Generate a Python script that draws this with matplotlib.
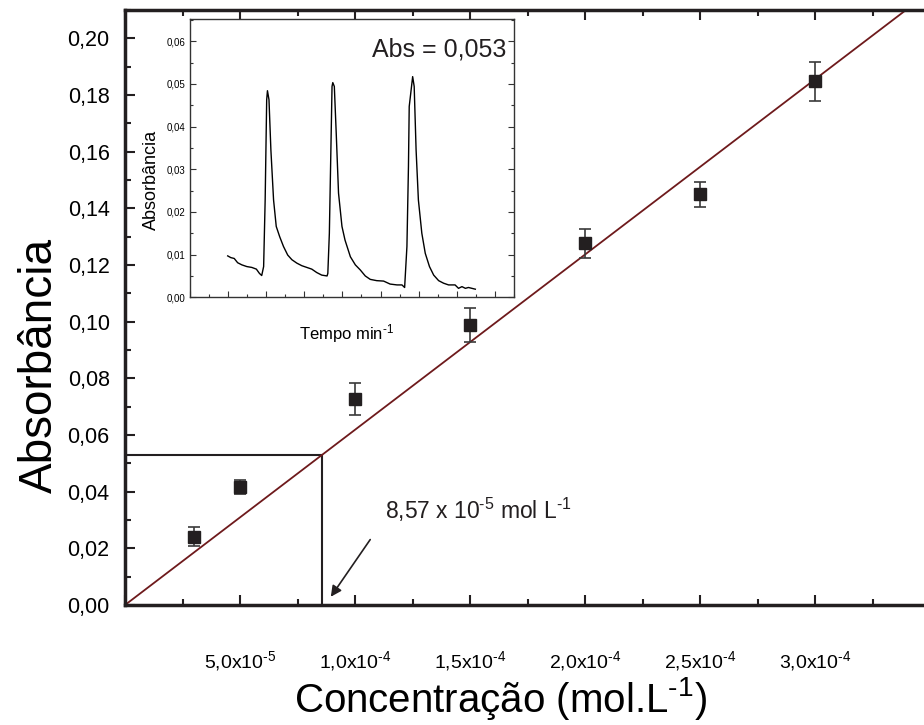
#Calibration curve (absorbance vs concentration) with FIA peaks inset
import numpy as np
import matplotlib
matplotlib.use('Agg')
import matplotlib.pyplot as plt
from matplotlib.ticker import MultipleLocator, FuncFormatter

plt.rcParams['font.family'] = ['Liberation Sans', 'DejaVu Sans']
plt.rcParams['mathtext.fontset'] = 'custom'
plt.rcParams['mathtext.rm'] = 'Liberation Sans'
plt.rcParams['mathtext.it'] = 'Liberation Sans'

#Calibration points
conc = [3.0e-5, 5.0e-5, 1.0e-4, 1.5e-4, 2.0e-4, 2.5e-4, 3.0e-4]
absorb = [0.0241, 0.0416, 0.0727, 0.0988, 0.1276, 0.1449, 0.1848]
absorb_err = [0.0034, 0.0025, 0.0056, 0.0059, 0.0052, 0.0043, 0.0068]

#Sample reading
sample_abs = 0.053
sample_conc = 8.57e-5
slope = sample_abs / sample_conc

#Inset signal (arbitrary time units)
t_sig = [1.00, 1.08, 1.17, 1.26, 1.37, 1.50, 1.63, 1.75, 1.83, 1.89,
         1.94, 1.98, 2.02, 2.04, 2.08, 2.13, 2.20, 2.27, 2.36, 2.46,
         2.57, 2.68, 2.81, 2.94, 3.07, 3.20, 3.33, 3.46, 3.60, 3.62,
         3.66, 3.70, 3.73, 3.75, 3.79, 3.84, 3.90, 3.99, 4.07, 4.21,
         4.34, 4.47, 4.60, 4.73, 4.90, 5.08, 5.25, 5.43, 5.56, 5.63,
         5.69, 5.73, 5.75, 5.79, 5.84, 5.88, 5.93, 5.99, 6.08, 6.17,
         6.28, 6.39, 6.52, 6.65, 6.78, 6.95, 7.04, 7.13, 7.22, 7.30, 7.48]
a_sig = [0.0097, 0.0093, 0.0091, 0.0081, 0.0076, 0.0072, 0.0070, 0.0066, 0.0056, 0.0051,
         0.0072, 0.0228, 0.0463, 0.0484, 0.0463, 0.0345, 0.0228, 0.0166, 0.0142, 0.0119,
         0.0099, 0.0088, 0.0080, 0.0074, 0.0070, 0.0066, 0.0058, 0.0052, 0.0050, 0.0056,
         0.0150, 0.0345, 0.0494, 0.0503, 0.0494, 0.0384, 0.0244, 0.0166, 0.0134, 0.0095,
         0.0076, 0.0064, 0.0050, 0.0042, 0.0039, 0.0038, 0.0031, 0.0029, 0.0029, 0.0023,
         0.0119, 0.0306, 0.0447, 0.0478, 0.0517, 0.0494, 0.0345, 0.0228, 0.0150, 0.0103,
         0.0072, 0.0052, 0.0039, 0.0033, 0.0029, 0.0029, 0.0021, 0.0025, 0.0021, 0.0023, 0.0019]

dark = '#231f20'
HY = '\u2010'  # short hyphen for the exponents

fig = plt.figure(figsize=(9.24, 7.25), dpi=100)
ax = fig.add_axes([125/924, 120/725, 805/924, 595/725])

#Fit line through origin
x_fit = np.linspace(0, 3.5e-4, 50)
ax.plot(x_fit, slope * x_fit, color='#6e1a1c', lw=1.3, zorder=2)

#Data with error bars
ax.errorbar(conc, absorb, yerr=absorb_err, fmt='s', color=dark, ms=9,
            ecolor='#3a3a3a', elinewidth=1.2, capsize=4, capthick=1.2, zorder=3)

#Guide lines to the sample reading
ax.plot([0, sample_conc, sample_conc], [sample_abs, sample_abs, 0], color=dark, lw=1.5, zorder=1)
ax.annotate('', xy=(8.88e-5, 0.0021), xytext=(1.073e-4, 0.0239),
            arrowprops=dict(arrowstyle='-|>', color=dark, lw=1.2, mutation_scale=16))
ax.text(1.13e-4, 0.0335, '8,57 x 10$^{' + HY + '5}$ mol L$^{' + HY + '1}$',
        fontsize=16.5, va='center', color=dark)

ax.set_xlim(0, 3.5e-4)
ax.set_ylim(0, 0.21)

def sci_fmt(v, pos):
    if v < 1e-7 or v > 3.2e-4:
        return ''
    exp = int(np.floor(np.log10(v) + 1e-9))
    mant = v / 10**exp
    return ('%.1f' % mant).replace('.', ',') + 'x10$^{' + HY + '%d}$' % abs(exp)

ax.xaxis.set_major_locator(MultipleLocator(5e-5))
ax.xaxis.set_minor_locator(MultipleLocator(2.5e-5))
ax.xaxis.set_major_formatter(FuncFormatter(sci_fmt))
ax.yaxis.set_major_locator(MultipleLocator(0.02))
ax.yaxis.set_minor_locator(MultipleLocator(0.01))
ax.yaxis.set_major_formatter(FuncFormatter(lambda v, p: ('%.2f' % v).replace('.', ',')))

ax.tick_params(which='both', direction='in', top=True, right=False, width=1.5, color=dark)
ax.tick_params(which='major', length=7)
ax.tick_params(which='minor', length=4)
ax.tick_params(axis='x', labelsize=14, pad=32)
ax.tick_params(axis='y', labelsize=15.5, pad=11)
for s in ax.spines.values():
    s.set_linewidth(2.5)
    s.set_color(dark)

ax.set_xlabel('Concentração (mol.L$^{' + HY + '1}$)', fontsize=29)
ax.set_ylabel('Absorbância', fontsize=33)
ax.xaxis.set_label_coords(0.466, -0.118)
ax.yaxis.set_label_coords(-0.078, 0.403)

#Inset: the recorded peaks
axin = fig.add_axes([189.5/924, (725-297.3)/725, 324.8/924, 278.3/725])
axin.plot(t_sig, a_sig, color='black', lw=1)
axin.set_xlim(0, 8.5)
axin.set_ylim(0, 0.0652)
axin.xaxis.set_major_locator(MultipleLocator(1))
axin.xaxis.set_minor_locator(MultipleLocator(0.5))
axin.yaxis.set_major_locator(MultipleLocator(0.01))
axin.yaxis.set_minor_locator(MultipleLocator(0.005))
axin.yaxis.set_major_formatter(FuncFormatter(lambda v, p: ('%.2f' % v).replace('.', ',')))
axin.tick_params(which='both', direction='in', right=True, top=False, width=0.8,
                 color='#333333', labelbottom=False, labelsize=7, pad=3)
axin.tick_params(which='major', length=4)
axin.tick_params(which='minor', length=2)
for s in axin.spines.values():
    s.set_linewidth(1)
    s.set_color('#333333')
axin.set_xlabel('Tempo min$^{' + HY + '1}$', fontsize=12)
axin.set_ylabel('Absorbância', fontsize=13)
axin.xaxis.set_label_coords(0.482, -0.089)
axin.yaxis.set_label_coords(-0.091, 0.42)
axin.text(0.977, 0.889, 'Abs = 0,053', transform=axin.transAxes, fontsize=18,
          ha='right', va='center', color=dark)

plt.savefig('out.png', dpi=100)
